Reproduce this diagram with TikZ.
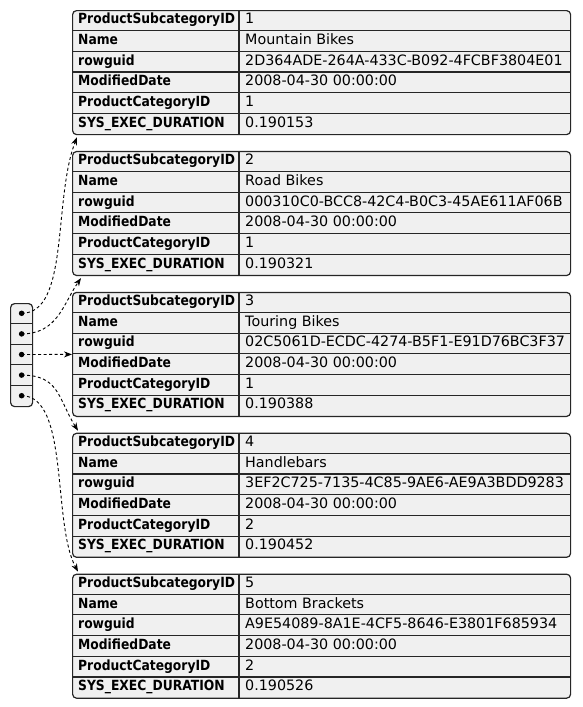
\documentclass[tikz,border=0pt]{standalone}
\usepackage{fontspec}
\setmainfont{DejaVu Sans}
\newfontfamily\keyfont{DejaVu Sans}[FakeStretch=0.88]
\usetikzlibrary{arrows.meta}
\tikzstyle{box}=[draw=black!85,line width=1.2pt,fill=black!6,rounded corners=4pt,inner sep=0pt]
\tikzstyle{cellline}=[draw=black!85,line width=1.1pt]
\tikzstyle{keytext}=[anchor=west,inner sep=0pt,text height=10pt,text depth=3pt,font=\keyfont\bfseries\fontsize{14}{16}\selectfont]
\tikzstyle{valtext}=[anchor=west,inner sep=0pt,text height=10pt,text depth=3pt,font=\fontsize{14.3}{16}\selectfont]
\tikzstyle{dot}=[circle,fill=black,inner sep=0pt,minimum size=5.5pt]
\tikzstyle{pointer}=[draw=black,line width=0.9pt,dash pattern=on 3pt off 2.5pt,-{Stealth[length=8pt,width=6pt]}]
\newcommand{\rowh}{20.67}
\newcommand{\drawrecord}[8]{
\node[box,anchor=north west,minimum width=498pt,minimum height=124pt] (#1) at (72,#2) {};
\foreach \k in {1,...,5} {
  \draw[cellline] ([yshift=-\k*\rowh pt]#1.north west) -- ([yshift=-\k*\rowh pt]#1.north east);
}
\draw[cellline] ([xshift=167pt]#1.north west) -- ([xshift=167pt]#1.south west);
\foreach \lab [count=\k] in {ProductSubcategoryID,Name,rowguid,ModifiedDate,ProductCategoryID,SYS\_EXEC\_DURATION} {
  \node[keytext] (#1-k\k) at ([xshift=6pt,yshift={-(\k-0.5)*\rowh pt}]#1.north west) {\lab};
}
\foreach \val [count=\k] in {#3,#4,#5,#6,#7,#8} {
  \node[valtext] (#1-v\k) at ([xshift=173pt,yshift={-(\k-0.5)*\rowh pt}]#1.north west) {\val};
}
}
\begin{document}
\begin{tikzpicture}[x=1pt,y=-1pt]
\useasboundingbox (0,0) rectangle (582,707);
% the five rows
\drawrecord{t1}{10}{1}{Mountain Bikes}{2D364ADE-264A-433C-B092-4FCBF3804E01}{2008-04-30 00:00:00}{1}{0.190153}
\drawrecord{t2}{150.9}{2}{Road Bikes}{000310C0-BCC8-42C4-B0C3-45AE611AF06B}{2008-04-30 00:00:00}{1}{0.190321}
\drawrecord{t3}{291.8}{3}{Touring Bikes}{02C5061D-ECDC-4274-B5F1-E91D76BC3F37}{2008-04-30 00:00:00}{1}{0.190388}
\drawrecord{t4}{432.7}{4}{Handlebars}{3EF2C725-7135-4C85-9AE6-AE9A3BDD9283}{2008-04-30 00:00:00}{2}{0.190452}
\drawrecord{t5}{573.6}{5}{Bottom Brackets}{A9E54089-8A1E-4CF5-8646-E3801F685934}{2008-04-30 00:00:00}{2}{0.190526}
% the array of pointers
\node[box,anchor=north west,minimum width=22pt,minimum height=103pt] (arr) at (10,303) {};
\foreach \k in {1,...,4} {
  \draw[cellline] ([yshift=-\k*20.6pt]arr.north west) -- ([yshift=-\k*20.6pt]arr.north east);
}
\foreach \k in {1,...,5} {
  \node[dot] (a\k) at ([yshift={-(\k-0.5)*20.6pt}]arr.north) {};
}
\draw[pointer] (a1.center) .. controls +(48,0) and +(-24,62) .. ([shift={(5,2)}]t1.south west);
\draw[pointer] (a2.center) .. controls +(36,0) and +(-18,26) .. ([shift={(9,2)}]t2.south west);
\draw[pointer] (a3.center) -- (t3.west);
\draw[pointer] (a4.center) .. controls +(38,0) and +(-20,-32) .. ([shift={(6,-2)}]t4.north west);
\draw[pointer] (a5.center) .. controls +(48,0) and +(-26,-48) .. ([shift={(6,-2)}]t5.north west);
\end{tikzpicture}
\end{document}
